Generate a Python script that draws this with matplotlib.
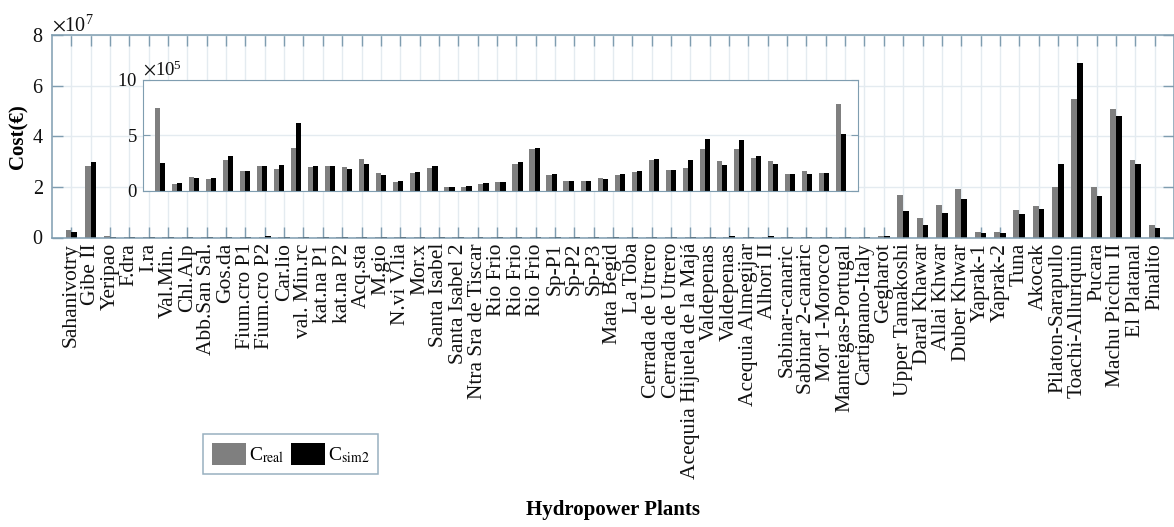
import matplotlib
matplotlib.use("Agg")
import matplotlib.pyplot as plt
import numpy as np
from matplotlib.ticker import ScalarFormatter

plants = [
    "Sahanivotry", "Gibe II", "Yeripao", "F.dra", "I.ra", "Val.Min.", "Chl.Alp",
    "Abb.San Sal.", "Gos.da", "Fium.cro P1", "Fium.cro P2", "Car.lio", "val. Min.rc",
    "kat.na P1", "kat.na P2", "Acq.sta", "M.gio", "N.vi V.lia", "Mor.x", "Santa Isabel",
    "Santa Isabel 2", "Ntra Sra de Tiscar", "Rio Frio", "Rio Frio", "Rio Frio",
    "Sp-P1", "Sp-P2", "Sp-P3", "Mata Begid", "La Toba", "Cerrada de Utrero",
    "Cerrada de Utrero", "Acequia Hijuela de la Majá", "Valdepenas", "Valdepenas",
    "Acequia Almegijar", "Alhori II", "Sabinar-canaric", "Sabinar 2-canaric",
    "Mor 1-Morocco", "Manteigas-Portugal", "Cartignano-Italy", "Gegharot",
    "Upper Tamakoshi", "Daral Khawar", "Allai Khwar", "Duber Khwar", "Yaprak-1",
    "Yaprak-2", "Tuna", "Akocak", "Pilaton-Sarapullo", "Toachi-Alluriquin", "Pucara",
    "Machu Picchu II", "El Platanal", "Pinalito",
]

# large plants (EUR), first two and last fourteen
large_real = [2.9e6, 2.81e7]
large_sim2 = [2.2e6, 3.00e7]
tail_real = [1.67e7, 0.78e7, 1.28e7, 1.90e7, 0.22e7, 0.21e7, 1.08e7, 1.25e7,
             1.98e7, 5.47e7, 2.00e7, 5.06e7, 3.06e7, 0.49e7]
tail_sim2 = [1.04e7, 0.49e7, 0.97e7, 1.54e7, 0.18e7, 0.17e7, 0.91e7, 1.11e7,
             2.90e7, 6.90e7, 1.63e7, 4.81e7, 2.90e7, 0.36e7]

# small plants shown in the inset (EUR), Yeripao .. Gegharot
small_real = [7.48e5, 0.55e5, 1.21e5, 1.06e5, 2.73e5, 1.76e5, 2.18e5, 1.91e5, 3.85e5,
              2.12e5, 2.18e5, 2.12e5, 2.82e5, 1.58e5, 0.76e5, 1.58e5, 2.03e5, 0.30e5,
              0.36e5, 0.58e5, 0.73e5, 2.42e5, 3.79e5, 1.40e5, 0.85e5, 0.85e5, 1.15e5,
              1.42e5, 1.67e5, 2.73e5, 1.88e5, 2.03e5, 3.79e5, 2.64e5, 3.79e5, 2.97e5,
              2.67e5, 1.45e5, 1.73e5, 1.60e5, 7.79e5]
small_sim2 = [2.48e5, 0.67e5, 1.15e5, 1.12e5, 3.09e5, 1.76e5, 2.18e5, 2.27e5, 6.15e5,
              2.18e5, 2.18e5, 1.94e5, 2.42e5, 1.36e5, 0.82e5, 1.67e5, 2.24e5, 0.36e5,
              0.42e5, 0.64e5, 0.79e5, 2.55e5, 3.85e5, 1.45e5, 0.88e5, 0.88e5, 1.00e5,
              1.45e5, 1.73e5, 2.85e5, 1.82e5, 2.73e5, 4.64e5, 2.33e5, 4.55e5, 3.12e5,
              2.42e5, 1.45e5, 1.45e5, 1.58e5, 5.15e5]

c_real = np.array(large_real + small_real + tail_real)
c_sim2 = np.array(large_sim2 + small_sim2 + tail_sim2)

plt.rcParams.update({
    "font.family": "Liberation Serif",
    "mathtext.fontset": "stix",
    "axes.edgecolor": "#7f9db0",
    "xtick.color": "#7f9db0",
    "ytick.color": "#7f9db0",
    "xtick.labelcolor": "#111111",
    "ytick.labelcolor": "#111111",
})

GREY = "#7f7f7f"
BLACK = "#000000"
w = 0.3

fig = plt.figure(figsize=(11.74, 5.27), dpi=100)
ax = fig.add_axes([52 / 1174, 1 - 237.5 / 527, 1 - 52 / 1174, 202.5 / 527])

x = np.arange(1, len(plants) + 1)
ax.bar(x - w / 2, c_real, w, color=GREY, label=r"C$_{\mathrm{real}}$")
ax.bar(x + w / 2, c_sim2, w, color=BLACK, label=r"C$_{\mathrm{sim2}}$")
ax.set_xlim(0, len(plants) + 1)
ax.set_ylim(0, 8e7)
ax.set_yticks([0, 2e7, 4e7, 6e7, 8e7])
ax.set_xticks(x)
ax.set_xticklabels(plants, rotation=90, fontsize=15.5)
fmt = ScalarFormatter(useMathText=True)
fmt.set_powerlimits((7, 7))
ax.yaxis.set_major_formatter(fmt)
ax.yaxis.get_offset_text().set_fontsize(14.5)
ax.tick_params(axis="both", direction="in", top=True, right=True, length=8, width=1)
ax.tick_params(axis="y", labelsize=14.5, pad=6)
ax.tick_params(axis="x", pad=4)
ax.grid(True, color="#e4ebf0", linewidth=1)
ax.set_axisbelow(True)
for s in ax.spines.values():
    s.set_linewidth(1.1)

ax.set_ylabel("Cost(€)", fontsize=15, fontweight="bold", va="center")
ax.yaxis.set_label_coords(-0.030, 0.5)
ax.set_xlabel("Hydropower Plants", fontsize=15, fontweight="bold", va="center")
ax.xaxis.set_label_coords(0.5, -(510 - 237.5) / 202.5)

# inset with the small plants
ins = fig.add_axes([143 / 1174, 1 - 190.5 / 527, 715 / 1174, 110.5 / 527])
xi = np.arange(1, len(small_real) + 1)
ins.bar(xi - w / 2, small_real, w, color=GREY)
ins.bar(xi + w / 2, small_sim2, w, color=BLACK)
ins.set_xlim(0, len(small_real) + 1)
ins.set_ylim(0, 1e6)
ins.set_yticks([0, 5e5, 1e6])
ins.set_xticks([])
fmt2 = ScalarFormatter(useMathText=True)
fmt2.set_powerlimits((5, 5))
ins.yaxis.set_major_formatter(fmt2)
ins.yaxis.get_offset_text().set_fontsize(13.5)
ins.tick_params(axis="y", direction="in", right=True, length=5, labelsize=13.5, pad=4)
ins.grid(True, axis="y", color="#e4ebf0", linewidth=1)
ins.set_axisbelow(True)
ins.set_facecolor("white")

leg = fig.legend(loc="lower left", bbox_to_anchor=(203 / 1174, 1 - 474 / 527),
                 ncol=2, fontsize=14, frameon=True, fancybox=False,
                 handlelength=1.75, handleheight=1.35, handletextpad=0.15,
                 columnspacing=0.35, borderpad=0.45, borderaxespad=0)
leg.get_frame().set_edgecolor("#7f9db0")
leg.get_frame().set_linewidth(1.1)

fig.savefig("out.png", dpi=100)
